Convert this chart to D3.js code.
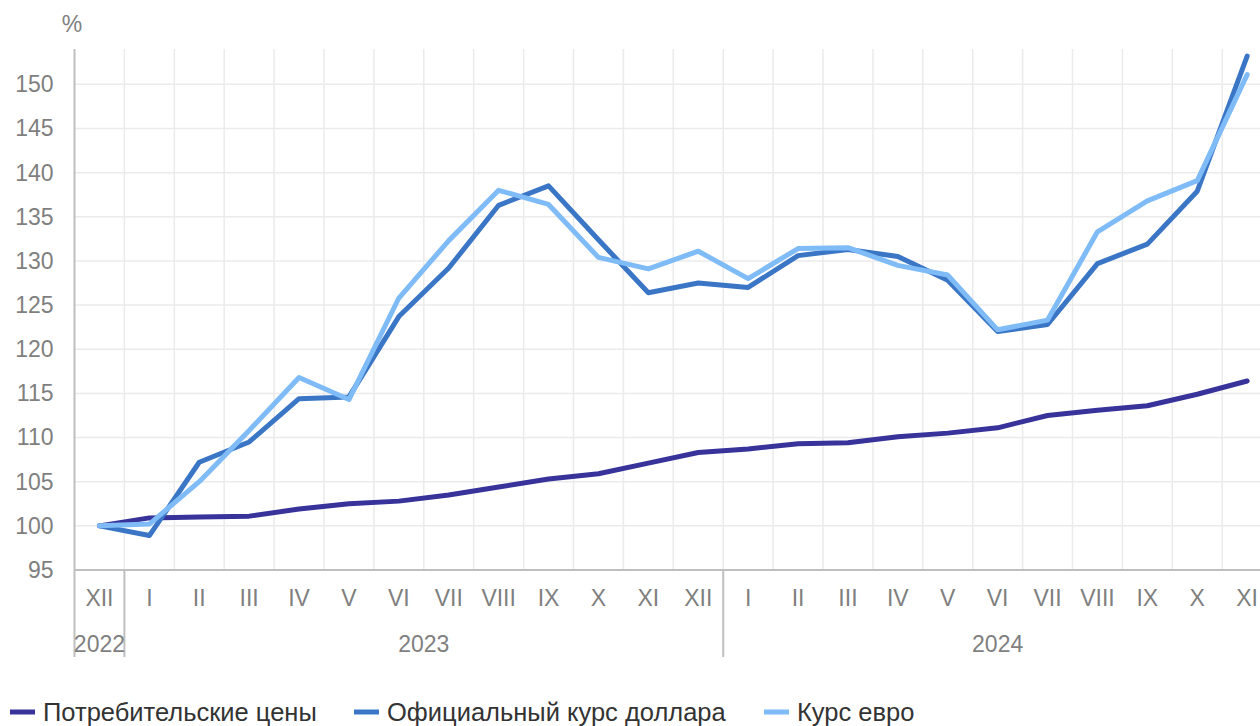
<!DOCTYPE html>
<html>
<head>
<meta charset="utf-8">
<script src="https://cdn.jsdelivr.net/npm/d3@7"></script>
<style>
  body { margin: 0; background: #fff; }
  svg { display: block; font-family: "Liberation Sans", Arial, sans-serif; }
  .grid line { stroke: #ebebeb; stroke-width: 1.5; }
  .tick-label { fill: #7f7f7f; font-size: 23px; }
  .legend text { fill: #333333; font-size: 25.5px; }
</style>
</head>
<body>
<svg></svg>
<script>
(function () {
  var width = 1260;
  var height = 726;

  // months from XII 2022 to XI 2024
  var months = ["XII", "I", "II", "III", "IV", "V", "VI", "VII", "VIII", "IX", "X", "XI",
                "XII", "I", "II", "III", "IV", "V", "VI", "VII", "VIII", "IX", "X", "XI"];
  var years = [{label: "2022", from: 0, to: 1},
               {label: "2023", from: 1, to: 13},
               {label: "2024", from: 13, to: 24}];

  var cpi = [100, 100.9, 101.0, 101.1, 101.9, 102.5, 102.8, 103.5, 104.4, 105.3, 105.9, 107.1,
             108.3, 108.7, 109.3, 109.4, 110.1, 110.5, 111.1, 112.5, 113.1, 113.6, 114.9, 116.4];
  var usd = [100, 98.9, 107.2, 109.5, 114.4, 114.6, 123.7, 129.2, 136.3, 138.5, 132.4, 126.4,
             127.5, 127.0, 130.6, 131.3, 130.5, 127.8, 122.0, 122.8, 129.7, 131.9, 137.9, 153.2];
  var eur = [100, 100.2, 105.0, 110.8, 116.8, 114.3, 125.8, 132.3, 138.0, 136.4, 130.4, 129.1,
             131.1, 128.0, 131.4, 131.5, 129.5, 128.4, 122.2, 123.3, 133.3, 136.8, 139.1, 151.1];

  var yTicks = [95, 100, 105, 110, 115, 120, 125, 130, 135, 140, 145, 150];

  var series = [
    {name: "Потребительские цены", values: cpi, color: "#37339a"},
    {name: "Официальный курс доллара", values: usd, color: "#3a76c5"},
    {name: "Курс евро", values: eur, color: "#7fbbf7"}
  ];

  var svg = d3.select("svg")
        .attr("width", width)
        .attr("height", height);

  var left = 74.5, top = 49, bottom = 570, band = 49.9;

  var x = d3.scaleBand()
        .domain(d3.range(months.length))
        .range([left, left + band * months.length])
        .padding(0);

  var y = d3.scaleLinear()
        .domain([95, 154])
        .range([bottom, top]);

  // vertical gridlines at band edges
  var grid = svg.append("g").attr("class", "grid");
  grid.selectAll(".vgrid")
    .data(d3.range(1, months.length))
    .enter().append("line")
    .attr("x1", function(i) { return x(i); })
    .attr("x2", function(i) { return x(i); })
    .attr("y1", top)
    .attr("y2", bottom);

  // horizontal gridlines
  grid.selectAll(".hgrid")
    .data(yTicks.slice(1))
    .enter().append("line")
    .attr("x1", left)
    .attr("x2", width)
    .attr("y1", function(d) { return y(d); })
    .attr("y2", function(d) { return y(d); });

  // y axis
  var yAxis = svg.append("g")
        .attr("transform", "translate(" + left + ",0)")
        .call(d3.axisLeft(y).tickValues(yTicks).tickSize(0).tickPadding(21));
  yAxis.select(".domain").remove();
  yAxis.selectAll("text")
    .attr("class", "tick-label")
    .attr("fill", null);

  svg.append("text")
    .attr("class", "tick-label")
    .attr("x", 72)
    .attr("y", 32)
    .attr("text-anchor", "middle")
    .text("%");

  // axis lines
  svg.append("line")
    .attr("x1", left).attr("x2", left)
    .attr("y1", top).attr("y2", 657)
    .attr("stroke", "#bfbfbf").attr("stroke-width", 2);
  svg.append("line")
    .attr("x1", left).attr("x2", width)
    .attr("y1", bottom).attr("y2", bottom)
    .attr("stroke", "#bfbfbf").attr("stroke-width", 2);

  // year separators
  svg.selectAll(".sep")
    .data(years.slice(1))
    .enter().append("line")
    .attr("x1", function(d) { return x(d.from); })
    .attr("x2", function(d) { return x(d.from); })
    .attr("y1", bottom)
    .attr("y2", 657)
    .attr("stroke", "#bfbfbf").attr("stroke-width", 2);

  // month labels
  svg.selectAll(".month")
    .data(months)
    .enter().append("text")
    .attr("class", "tick-label")
    .attr("x", function(d, i) { return x(i) + x.bandwidth() / 2; })
    .attr("y", 606)
    .attr("text-anchor", "middle")
    .text(function(d) { return d; });

  // year labels
  svg.selectAll(".year")
    .data(years)
    .enter().append("text")
    .attr("class", "tick-label")
    .attr("x", function(d) {
      var x0 = x(d.from), x1 = d.to >= months.length ? x.range()[1] : x(d.to);
      return (x0 + x1) / 2;
    })
    .attr("y", 652)
    .attr("text-anchor", "middle")
    .text(function(d) { return d.label; });

  // lines
  var line = d3.line()
        .x(function(d, i) { return x(i) + x.bandwidth() / 2; })
        .y(function(d) { return y(d); });

  svg.selectAll(".serie")
    .data(series)
    .enter().append("path")
    .attr("class", "serie")
    .attr("fill", "none")
    .attr("stroke", function(d) { return d.color; })
    .attr("stroke-width", 5)
    .attr("stroke-linejoin", "round")
    .attr("stroke-linecap", "round")
    .attr("d", function(d) { return line(d.values); });

  // legend
  var legendX = [10, 354, 764];
  var legend = svg.append("g").attr("class", "legend");
  var item = legend.selectAll("g")
        .data(series)
        .enter().append("g")
        .attr("transform", function(d, i) { return "translate(" + legendX[i] + ",712)"; });
  item.append("line")
    .attr("x1", 0).attr("x2", 25)
    .attr("stroke", function(d) { return d.color; })
    .attr("stroke-width", 5);
  item.append("text")
    .attr("x", 33)
    .attr("y", 9)
    .text(function(d) { return d.name; });
})();
</script>
</body>
</html>
